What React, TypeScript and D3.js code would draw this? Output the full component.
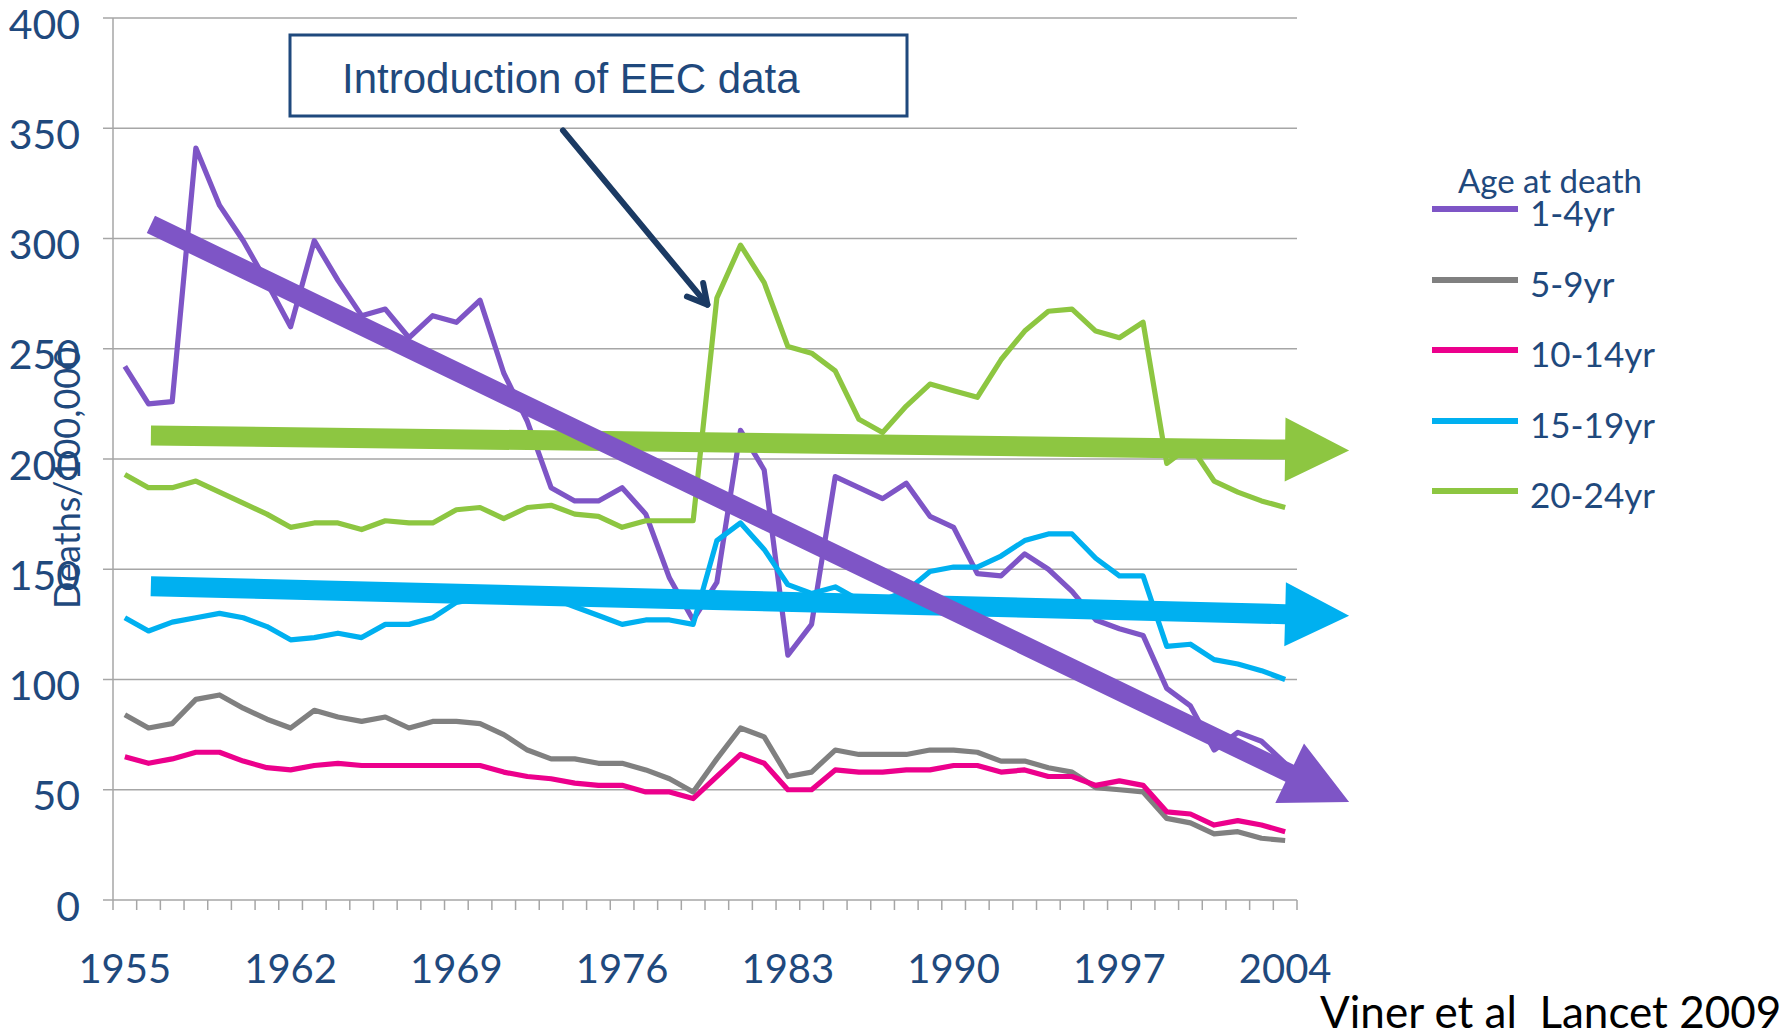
import React from 'react';
import * as d3 from 'd3';

// categories
const years = d3.range(1955, 2005);
const yearLabels = [1955, 1962, 1969, 1976, 1983, 1990, 1997, 2004];
const yTicks = [0, 50, 100, 150, 200, 250, 300, 350, 400];

// deaths per 100,000
const age1to4 = [242, 225, 226, 341, 315, 299, 280, 260, 299, 281, 265, 268, 255, 265, 262, 272, 239, 217, 187, 181,
  181, 187, 175, 146, 127, 144, 213, 195, 111, 125, 192, 187, 182, 189, 174, 169, 148, 147, 157, 150,
  140, 127, 123, 120, 96, 88, 68, 76, 72, 62];
const age5to9 = [84, 78, 80, 91, 93, 87, 82, 78, 86, 83, 81, 83, 78, 81, 81, 80, 75, 68, 64, 64,
  62, 62, 59, 55, 49, 64, 78, 74, 56, 58, 68, 66, 66, 66, 68, 68, 67, 63, 63, 60,
  58, 51, 50, 49, 37, 35, 30, 31, 28, 27];
const age10to14 = [65, 62, 64, 67, 67, 63, 60, 59, 61, 62, 61, 61, 61, 61, 61, 61, 58, 56, 55, 53,
  52, 52, 49, 49, 46, 56, 66, 62, 50, 50, 59, 58, 58, 59, 59, 61, 61, 58, 59, 56,
  56, 52, 54, 52, 40, 39, 34, 36, 34, 31];
const age15to19 = [128, 122, 126, 128, 130, 128, 124, 118, 119, 121, 119, 125, 125, 128, 135, 137, 138, 138, 137, 133,
  129, 125, 127, 127, 125, 163, 171, 159, 143, 139, 142, 136, 136, 140, 149, 151, 151, 156, 163, 166,
  166, 155, 147, 147, 115, 116, 109, 107, 104, 100];
const age20to24 = [193, 187, 187, 190, 185, 180, 175, 169, 171, 171, 168, 172, 171, 171, 177, 178, 173, 178, 179, 175,
  174, 169, 172, 172, 172, 273, 297, 280, 251, 248, 240, 218, 212, 224, 234, 231, 228, 245, 258, 267,
  268, 258, 255, 262, 198, 206, 190, 185, 181, 178];

const seriesNames = ['1-4yr', '5-9yr', '10-14yr', '15-19yr', '20-24yr'];
const seriesValues = [age1to4, age5to9, age10to14, age15to19, age20to24];
const seriesColors = ['#7E55C6', '#808080', '#EC008C', '#00B0F0', '#8DC641'];

// trend arrows: start year, start value, end year, end value
const trendGreen = [1956.1, 210.7, 2006.7, 203.9];
const trendBlue = [1956.1, 142.3, 2006.7, 128.9];
const trendPurple = [1956.1, 306.4, 2006.7, 44.5];
// pointer from the note to the 1980 jump
const eecPointer = [1973.5, 349, 1979.6, 270];

const W = 1789;
const H = 1036;
const left = 113, right = 1297, top = 18, bottom = 900;
const textBlue = '#1F497D';

function blockArrow(x1, y1, x2, y2, shaft, headLen, headW) {
  const dx = x2 - x1, dy = y2 - y1, L = Math.hypot(dx, dy);
  const ux = dx / L, uy = dy / L, nx = -uy, ny = ux;
  const bx = x2 - ux * headLen, by = y2 - uy * headLen;
  const pts = [
    [x1 + nx * shaft / 2, y1 + ny * shaft / 2],
    [bx + nx * shaft / 2, by + ny * shaft / 2],
    [bx + nx * headW / 2, by + ny * headW / 2],
    [x2, y2],
    [bx - nx * headW / 2, by - ny * headW / 2],
    [bx - nx * shaft / 2, by - ny * shaft / 2],
    [x1 - nx * shaft / 2, y1 - ny * shaft / 2],
  ];
  return 'M' + pts.map(p => p[0].toFixed(1) + ',' + p[1].toFixed(1)).join('L') + 'Z';
}

export default function App() {
  const x = d3.scaleBand().domain(years.map(String)).range([left, right]).padding(0);
  const bw = x.bandwidth();
  const cx = (yr) => x(String(yr)) + bw / 2;
  const xLin = d3.scaleLinear().domain([1955, 2004]).range([cx(1955), cx(2004)]);
  const y = d3.scaleLinear().domain([0, 400]).range([bottom, top]);

  const line = d3.line().x((d, i) => cx(years[i])).y(d => y(d));

  const arrowPath = (t, shaft, head) =>
    blockArrow(xLin(t[0]), y(t[1]), xLin(t[2]), y(t[3]), shaft, head, head);

  // note pointer
  const px1 = xLin(eecPointer[0]), py1 = y(eecPointer[1]);
  const px2 = xLin(eecPointer[2]), py2 = y(eecPointer[3]);
  const ang = Math.atan2(py2 - py1, px2 - px1);
  const wing = 22;
  const w1 = [px2 - wing * Math.cos(ang - 0.5), py2 - wing * Math.sin(ang - 0.5)];
  const w2 = [px2 - wing * Math.cos(ang + 0.5), py2 - wing * Math.sin(ang + 0.5)];

  const legendX = 1432;
  const legendYs = [209, 280, 350, 421, 491];

  return (
    <svg width={W} height={H} style={{ position: 'absolute', left: 0, top: 0, background: '#fff' }}
      fontFamily="Lato, 'Open Sans', sans-serif">
      {/* grid */}
      {yTicks.filter(t => t > 0).map(t => (
        <line key={t} x1={left} x2={right} y1={y(t)} y2={y(t)} stroke="#A6A6A6" strokeWidth={1.5} />
      ))}
      {/* y axis */}
      <line x1={left} x2={left} y1={top} y2={bottom} stroke="#A6A6A6" strokeWidth={1.5} />
      {yTicks.map(t => (
        <g key={t}>
          <line x1={left - 10} x2={left} y1={y(t)} y2={y(t)} stroke="#A6A6A6" strokeWidth={1.5} />
          <text x={80} y={y(t) + 5} textAnchor="end" dominantBaseline="central" fontSize={41} fill={textBlue}>{t}</text>
        </g>
      ))}
      {/* x axis */}
      <line x1={left} x2={right} y1={bottom} y2={bottom} stroke="#A6A6A6" strokeWidth={1.5} />
      {years.map(yr => (
        <line key={yr} x1={x(String(yr))} x2={x(String(yr))} y1={bottom} y2={bottom + 10} stroke="#A6A6A6" strokeWidth={1.5} />
      ))}
      <line x1={right} x2={right} y1={bottom} y2={bottom + 10} stroke="#A6A6A6" strokeWidth={1.5} />
      {yearLabels.map(yr => (
        <text key={yr} x={cx(yr)} y={968} textAnchor="middle" dominantBaseline="central" fontSize={40} fill={textBlue}>{yr}</text>
      ))}
      <text transform="translate(66,478) rotate(-90)" textAnchor="middle" dominantBaseline="central" fontSize={36} fill={textBlue}>Deaths/100,000</text>

      {/* series */}
      {seriesValues.map((vals, i) => (
        <path key={seriesNames[i]} d={line(vals)} fill="none" stroke={seriesColors[i]} strokeWidth={5.2} strokeLinejoin="round" />
      ))}

      {/* trend arrows */}
      <path d={arrowPath(trendGreen, 20, 64)} fill={seriesColors[4]} />
      <path d={arrowPath(trendBlue, 20, 64)} fill={seriesColors[3]} />
      <path d={arrowPath(trendPurple, 19, 66)} fill={seriesColors[0]} />

      {/* note */}
      <rect x={290} y={35} width={617} height={81} fill="#fff" stroke={textBlue} strokeWidth={3} />
      <text x={342} y={78} dominantBaseline="central" fontSize={42} fill={textBlue}
        fontFamily="'Liberation Sans Narrow', 'Liberation Sans', sans-serif">Introduction of EEC data</text>
      <line x1={px1} y1={py1} x2={px2} y2={py2} stroke="#1B3A63" strokeWidth={6} strokeLinecap="round" />
      <polyline points={`${w1[0]},${w1[1]} ${px2},${py2} ${w2[0]},${w2[1]}`} fill="none" stroke="#1B3A63" strokeWidth={6}
        strokeLinecap="round" strokeLinejoin="round" />

      {/* legend */}
      <text x={1458} y={193} fontSize={33} fill={textBlue}>Age at death</text>
      {seriesNames.map((n, i) => (
        <g key={n}>
          <line x1={legendX} x2={legendX + 86} y1={legendYs[i]} y2={legendYs[i]} stroke={seriesColors[i]} strokeWidth={6} />
          <text x={1530} y={legendYs[i] + 3} dominantBaseline="central" fontSize={35} fill={textBlue}>{n}</text>
        </g>
      ))}

      <text x={1320} y={1028} fontSize={44} fill="#000" style={{ whiteSpace: 'pre' }}>Viner et al  Lancet 2009</text>
    </svg>
  );
}
